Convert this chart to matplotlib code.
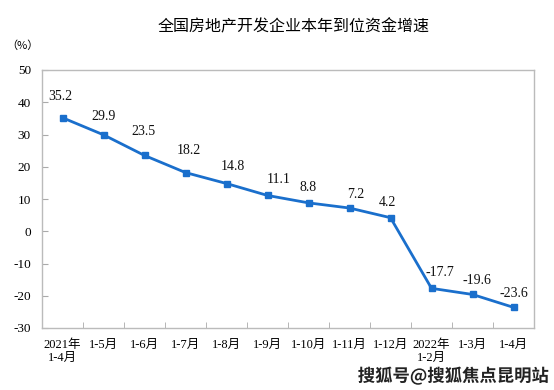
import numpy as np
import matplotlib.pyplot as plt
import matplotlib.patheffects as pe

# data
months = ['2021年\n1-4月', '1-5月', '1-6月', '1-7月', '1-8月', '1-9月', '1-10月',
          '1-11月', '1-12月', '2022年\n1-2月', '1-3月', '1-4月']
growth = [35.2, 29.9, 23.5, 18.2, 14.8, 11.1, 8.8, 7.2, 4.2, -17.7, -19.6, -23.6]
yticks = [-30, -20, -10, 0, 10, 20, 30, 40, 50]

# label nudges in pixels (dx, dy) relative to each point
label_dx = [-2, 0, -1, 3, 6, 11, 0, 6, -3, 8, 4, 0]
label_dy = [21, 18, 24, 22, 17, 16, 15, 14, 15, 16, 14, 14]

serif = ['Liberation Serif', 'Noto Sans CJK SC']
cjk = ['Noto Sans CJK SC', 'DejaVu Sans']

fig = plt.figure(figsize=(5.54, 3.9), dpi=100)
ax = fig.add_axes([42/554, 1-328/390, (534-42)/554, (328-70)/390])

x = np.arange(len(growth))
ax.plot(x, growth, color='#1a6fcc', lw=2.0, marker='s', ms=4.5, zorder=3)

for i, v in enumerate(growth):
    ax.annotate(f'{v:.1f}', (x[i], v), xytext=(label_dx[i]*0.72, label_dy[i]*0.72),
                textcoords='offset points', ha='center', va='center',
                fontsize=10, family=serif, color='#111111')

ax.set_xlim(-0.5, len(growth) - 0.5)
ax.set_ylim(-30, 50)
ax.set_yticks(yticks)
ax.set_yticklabels([str(t) for t in yticks], family=serif, fontsize=9.5)

ax.set_xticks(x)
ax.set_xticklabels(months, family=serif, fontsize=9, linespacing=1.1)
ax.set_xticks(np.arange(0.5, len(growth) - 0.5, 1), minor=True)
ax.tick_params(axis='x', which='major', length=0, pad=8)
ax.tick_params(axis='x', which='minor', direction='in', length=4, color='#aaaaaa')
ax.tick_params(axis='y', direction='in', length=4, color='#aaaaaa', pad=8)

for s in ax.spines.values():
    s.set_color('#bbbbbb')
    s.set_linewidth(1)

fig.text(294/554, 1-27/390, '全国房地产开发企业本年到位资金增速', ha='center', va='center',
         fontsize=11.5, family=cjk)
fig.text(22/554, 1-46/390, '（%）', ha='center', va='center', fontsize=8, family=cjk)

fig.text(549/554, 1-376/390, '搜狐号@搜狐焦点昆明站', ha='right', va='center',
         fontsize=12.5, family=cjk, color='#222222', weight='bold',
         path_effects=[pe.withStroke(linewidth=2.5, foreground='white')])

fig.savefig('out.png', dpi=100)
